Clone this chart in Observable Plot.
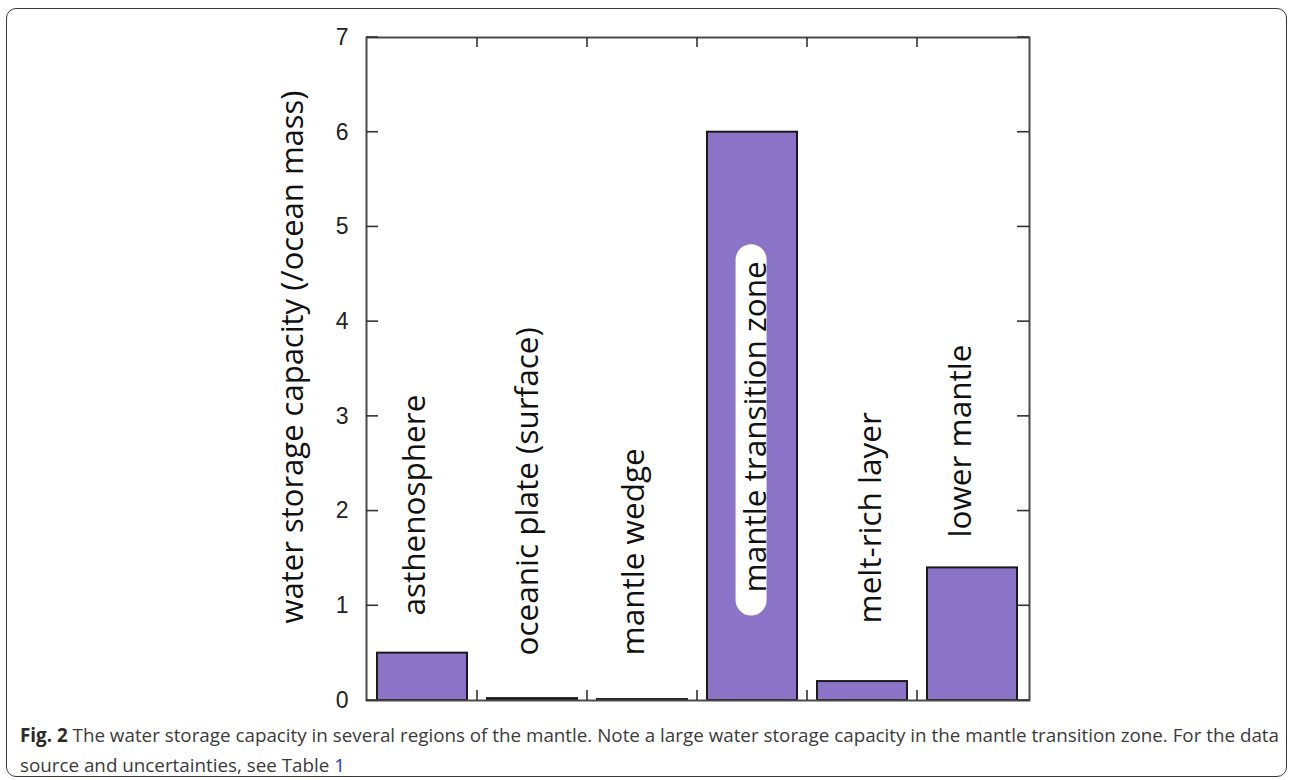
<!DOCTYPE html>
<html><head><meta charset="utf-8">
<script src="https://cdn.jsdelivr.net/npm/d3@7"></script>
<script src="https://cdn.jsdelivr.net/npm/@observablehq/plot@0.6"></script>
<style>
body{margin:0;background:#fff;width:1292px;height:780px;overflow:hidden;position:relative;font-family:"Open Sans",sans-serif}
#box{position:absolute;left:6px;top:8px;width:1281px;height:769px;border:1.5px solid #3a3a3a;border-radius:10px;box-sizing:border-box}
#chart{position:absolute;left:0;top:0}
#caption{position:absolute;left:20px;top:720px;font-size:18px;line-height:30px;color:#3a3a3a;white-space:nowrap}
#caption span{display:inline-block}
#caption b{font-weight:700;color:#2a2a2a}
#caption a{color:#2233dd;text-decoration:none}
</style></head><body>
<div id="box"></div>
<div id="chart"></div>
<div id="caption"><div><span id="l1"><b>Fig. 2</b> The water storage capacity in several regions of the mantle. Note a large water storage capacity in the mantle transition zone. For the data</span></div><div><span id="l2">source and uncertainties, see Table <a>1</a></span></div></div>
<script>
// ---- data ----
const regions = ["asthenosphere", "oceanic plate (surface)", "mantle wedge", "mantle transition zone", "melt-rich layer", "lower mantle"];
const capacity = [0.5, 0.02, 0.01, 6.0, 0.2, 1.4];
const yTicks = [0, 1, 2, 3, 4, 5, 6, 7];
const yLabel = "water storage capacity (/ocean mass)";

const table = regions.map((region, i) => ({region, capacity: capacity[i]}));

// ---- styling (label placement in px, relative to bar centre at y = 0) ----
const labelStyle = [
  {dx: -8, dy: -85},
  {dx: -5, dy: -45},
  {dx: -9, dy: -45},
  {dx: 3, dy: -108, pill: true},
  {dx: 8, dy: -77},
  {dx: -12, dy: -163}
];

function frameTicks(index, scales, values, dims) {
  const {x, y} = scales;
  const {marginLeft, marginRight, marginTop, marginBottom, width, height} = dims;
  const L = marginLeft, R = width - marginRight, T = marginTop, B = height - marginBottom;
  const g = d3.create("svg:g").attr("stroke", "#333").attr("stroke-width", 1.6).attr("fill", "none");
  const bw = x.bandwidth();
  for (let i = 0; i < regions.length - 1; i++) {
    const bx = (x(regions[i]) + bw + x(regions[i + 1])) / 2;
    g.append("line").attr("x1", bx).attr("x2", bx).attr("y1", T).attr("y2", T + 10);
    g.append("line").attr("x1", bx).attr("x2", bx).attr("y1", B).attr("y2", B - 10);
  }
  for (const t of yTicks) {
    const ty = y(t);
    g.append("line").attr("x1", L).attr("x2", L + 12).attr("y1", ty).attr("y2", ty);
    g.append("line").attr("x1", R).attr("x2", R - 12).attr("y1", ty).attr("y2", ty);
  }
  return g.node();
}

const labelMarks = regions.map((r, i) => Plot.text([r], {
  x: d => d, y: () => 0, text: d => d,
  rotate: -90, textAnchor: "start",
  fontSize: 31.5, fill: "#111",
  dx: labelStyle[i].dx, dy: labelStyle[i].dy,
  className: labelStyle[i].pill ? "pill-label" : undefined
}));

const svg = Plot.plot({
  width: 1292,
  height: 712,
  marginLeft: 366,
  marginRight: 263,
  marginTop: 37,
  marginBottom: 12,
  style: {fontFamily: "'Open Sans', sans-serif", background: "transparent", color: "#222"},
  x: {domain: regions, paddingInner: 0.18, paddingOuter: 0.1, axis: null},
  y: {domain: [0, 7]},
  marks: [
    Plot.barY(table, {x: "region", y: "capacity", fill: "#8b73c8", stroke: "#1a1a1a", strokeWidth: 2}),
    Plot.frame({stroke: "#4a4a4a", strokeWidth: 2}),
    frameTicks,
    Plot.axisY({ticks: yTicks, tickSize: 0, tickPadding: 18, fontSize: 23, fontFamily: "'Liberation Sans', Arial, sans-serif", label: null, tickFormat: d => String(d)}),
    Plot.text([yLabel], {frameAnchor: "left", textAnchor: "middle", text: d => d, rotate: -90, dx: -73, dy: -12, fontSize: 31, fill: "#111"}),
    ...labelMarks
  ]
});
document.getElementById("chart").append(svg);

// white rounded pill behind the label inside the tall bar, sized from the text itself
function addPill() {
  svg.querySelectorAll("g.pill-label text").forEach(t => {
    const prev = t.previousSibling;
    if (prev && prev.tagName === "rect") prev.remove();
    const bb = t.getBBox();
    const h = 31;
    const cy = bb.y + bb.height / 2 - 2;
    const rect = document.createElementNS("http://www.w3.org/2000/svg", "rect");
    rect.setAttribute("x", bb.x - 23);
    rect.setAttribute("width", bb.width + 40);
    rect.setAttribute("y", cy - h / 2);
    rect.setAttribute("height", h);
    rect.setAttribute("rx", h / 2);
    rect.setAttribute("fill", "#fff");
    rect.setAttribute("transform", t.getAttribute("transform"));
    t.parentNode.insertBefore(rect, t);
  });
}

function fitCaption() {
  const cap = document.getElementById("caption");
  cap.style.fontSize = "18px";
  const w = document.getElementById("l1").getBoundingClientRect().width;
  cap.style.fontSize = (18 * 1260 / w).toFixed(2) + "px";
}
addPill(); fitCaption();
if (document.fonts) document.fonts.ready.then(() => { addPill(); fitCaption(); });
</script>
</body></html>
